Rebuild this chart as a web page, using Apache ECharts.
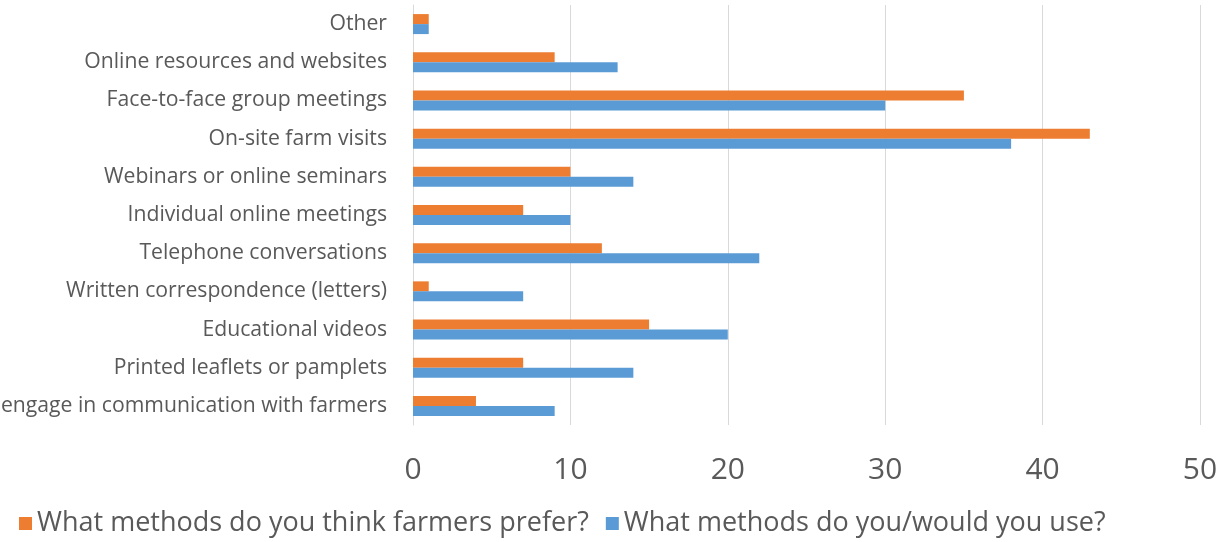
<!DOCTYPE html>
<html>
<head>
<meta charset="utf-8">
<script src="https://cdn.jsdelivr.net/npm/echarts@6/dist/echarts.min.js"></script>
<style>
  html, body { margin: 0; padding: 0; background: #fff; }
  #chart { width: 1225px; height: 542px; }
</style>
</head>
<body>
<div id="chart"></div>
<script>
  // categories top to bottom
  const categories = [
    'Other',
    'Online resources and websites',
    'Face-to-face group meetings',
    'On-site farm visits',
    'Webinars or online seminars',
    'Individual online meetings',
    'Telephone conversations',
    'Written correspondence (letters)',
    'Educational videos',
    'Printed leaflets or pamplets',
    'engage in communication with farmers'
  ];
  const preferName = 'What methods do you think farmers prefer?';
  const useName = 'What methods do you/would you use?';
  const preferValues = [1, 9, 35, 43, 10, 7, 12, 1, 15, 7, 4];
  const useValues = [1, 13, 30, 38, 14, 10, 22, 7, 20, 14, 9];

  const font = '"Open Sans", sans-serif';
  const myChart = echarts.init(document.getElementById('chart'));
  const options = {
    animation: false,
    color: ['#ED7D31', '#5B9BD5'],
    grid: { left: 413, right: 25, top: 5, bottom: 117, containLabel: false, outerBoundsMode: 'none' },
    legend: {
      left: 14,
      top: 505,
      itemWidth: 13,
      itemHeight: 13,
      itemGap: 17,
      icon: 'rect',
      textStyle: { color: '#595959', fontSize: 27, fontFamily: font }
    },
    xAxis: {
      type: 'value',
      min: 0,
      max: 50,
      interval: 10,
      axisLine: { show: false },
      axisTick: { show: false },
      splitLine: { lineStyle: { color: '#D9D9D9', width: 1 } },
      axisLabel: { color: '#595959', fontSize: 30, fontFamily: font, margin: 30 }
    },
    yAxis: {
      type: 'category',
      inverse: true,
      data: categories,
      axisLine: { lineStyle: { color: '#D9D9D9' } },
      axisTick: { show: false },
      axisLabel: { color: '#595959', fontSize: 21.2, fontFamily: font, margin: 26 }
    },
    series: [
      { name: preferName, type: 'bar', data: preferValues, barWidth: 10, barGap: '0%' },
      { name: useName, type: 'bar', data: useValues, barWidth: 10, barGap: '0%' }
    ]
  };
  myChart.setOption(options);
</script>
</body>
</html>
